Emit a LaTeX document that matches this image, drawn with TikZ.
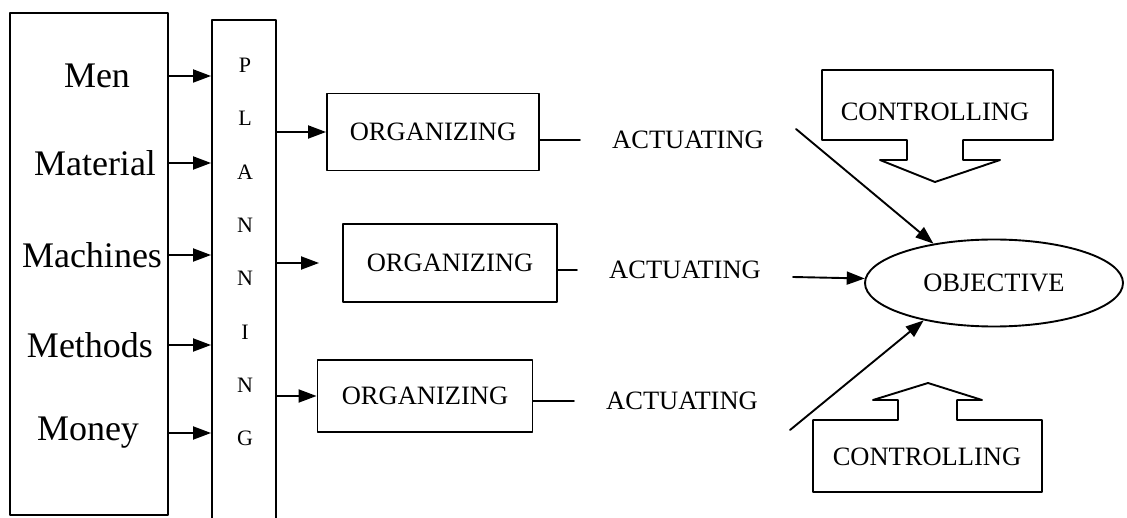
\documentclass[tikz,border=0pt]{standalone}
\usepackage{fontspec}
\setmainfont{Liberation Serif}
\usetikzlibrary{shapes.geometric,arrows.meta}
\begin{document}
\begin{tikzpicture}[line cap=round,line join=round,x=1pt,y=-1pt,
		box/.style={draw,line width=1.9pt,inner sep=0pt},
		res/.style={font=\fontsize{36}{40}\selectfont},
		caps/.style={font=\fontsize{26.5}{30}\selectfont},
		act/.style={caps,inner xsep=32pt},
		letter/.style={font=\fontsize{22}{24}\selectfont},
		arr/.style={line width=1.9pt,-{Triangle[length=18pt,width=13pt]}}]
			\useasboundingbox (0,0) rectangle (1127,518);
			\clip (0,0) rectangle (1127,518);
			\node [box,minimum width=158pt,minimum height=502pt] (inbox) at (89,264) {};
			\node [box,minimum width=64pt,minimum height=540pt] (plan) at (244,290) {};
			\node [res] (men) at (97,76) {Men};
			\node [res] (material) at (95,163) {Material};
			\node [res] (machines) at (92,255) {Machines};
			\node [res] (methods) at (90,345) {Methods};
			\node [res] (money) at (88,433) {Money};
			\foreach \i/\c in {0/P,1/L,2/A,3/N,4/N,5/I,6/N,7/G}
				\node [letter] (p\i) at (245,65+53.4*\i) {\c};
			\foreach \r in {men,material,machines,methods,money}
				\draw [arr] (inbox.east |- \r)-- (plan.west |- \r);
			\node [box,caps,minimum width=212pt,minimum height=77pt] (org1) at (433,132) {ORGANIZING};
			\node [box,caps,minimum width=214pt,minimum height=78pt] (org2) at (450,263) {ORGANIZING};
			\node [box,caps,minimum width=215pt,minimum height=72pt] (org3) at (425,396) {ORGANIZING};
			\node [act] (act1) at (688,140) {ACTUATING};
			\node [act] (act2) at (685,270) {ACTUATING};
			\node [act] (act3) at (682,401) {ACTUATING};
			\draw [arr] (plan.east |- org1.west)-- (org1.west);
			\draw [arr] (plan.east |- org2.west)-- ([xshift=-23pt]org2.west);
			\draw [arr] (plan.east |- org3.west)-- (org3.west);
			\draw [line width=1.9pt] (act1.west -| org1.east)-- (act1.west);
			\draw [line width=1.9pt] (act2.west -| org2.east)-- (act2.west);
			\draw [line width=1.9pt] (act3.west -| org3.east)-- (act3.west);
			\node [ellipse,draw,line width=1.9pt,caps,inner sep=0pt,minimum width=258pt,minimum height=87pt] (obj) at (994,283) {OBJECTIVE};
			\draw [arr] ([yshift=11pt]act1.east)-- (obj.147);
			\draw [arr] ([yshift=-7pt]act2.east)-- (obj.178);
			\draw [arr] ([yshift=-29pt]act3.east)-- (obj.208);
			\node [caps] (ctop) at (935,112) {CONTROLLING};
			\draw [line width=1.9pt] (907,140)-- (822,140)-- (822,70)-- (1053,70)-- (1053,140)-- (963,140)-- (963,160)-- (1000,160)-- (935,182)-- (880,160)-- (907,160)-- cycle;
			\node [caps] (cbot) at (927,457) {CONTROLLING};
			\draw [line width=1.9pt] (898,420)-- (813,420)-- (813,492)-- (1042,492)-- (1042,420)-- (957,420)-- (957,400)-- (982,400)-- (928,383)-- (873,400)-- (898,400)-- cycle;
		\end{tikzpicture}
\end{document}
